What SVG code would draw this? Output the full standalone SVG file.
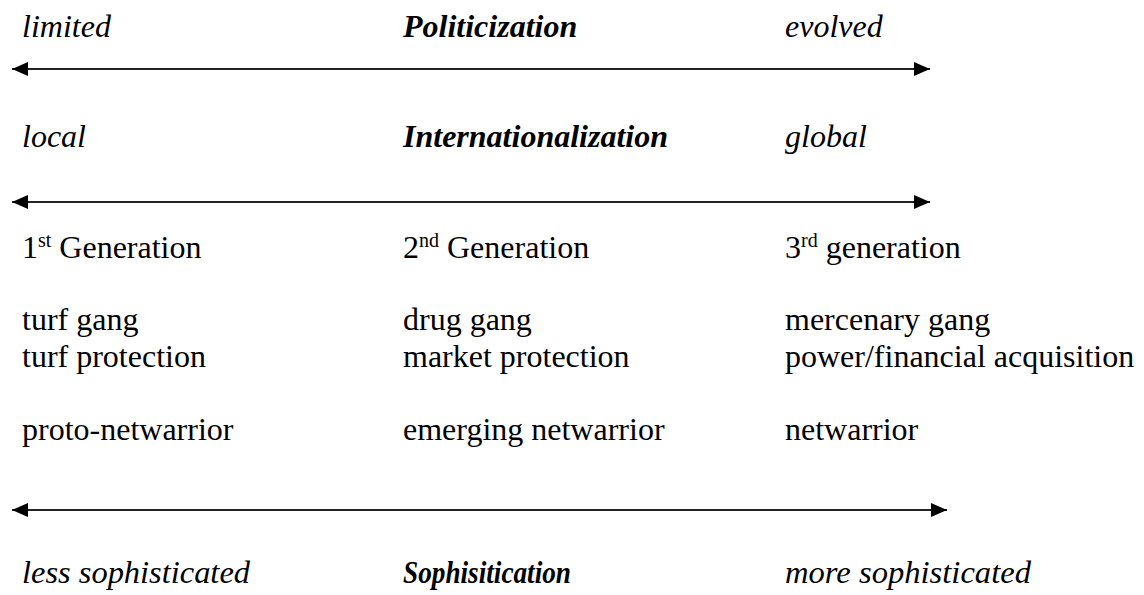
<svg xmlns="http://www.w3.org/2000/svg" width="1144" height="595" viewBox="0 0 1144 595">
<style>
text{font-family:"Liberation Serif","Times New Roman",serif;font-size:32px;fill:#000}
.i{font-style:italic}
.b{font-style:italic;font-weight:bold}
.sup{font-size:20px}
.ax{stroke:#222;stroke-width:2;fill:none}
</style>
<defs>
<marker id="ah" viewBox="0 0 16 14" refX="16" refY="7" markerWidth="16" markerHeight="14" markerUnits="userSpaceOnUse" orient="auto-start-reverse">
<path d="M0,0 L16,7 L0,14 Z" fill="#000"/>
</marker>
</defs>
<rect width="1144" height="595" fill="#fff"/>
<g id="politicization">
<text class="i" x="22" y="37">limited</text>
<text class="b" x="403" y="37">Politicization</text>
<text class="i" x="785" y="37">evolved</text>
</g>
<g id="internationalization">
<text class="i" x="22" y="147">local</text>
<text class="b" x="403" y="147">Internationalization</text>
<text class="i" x="785" y="147">global</text>
</g>
<g id="gen1">
<text x="22" y="258">1<tspan class="sup" dy="-11">st</tspan><tspan dy="11"> Generation</tspan></text>
<text x="22" y="330">turf gang</text>
<text x="22" y="367">turf protection</text>
<text x="22" y="440">proto-netwarrior</text>
</g>
<g id="gen2">
<text x="403" y="258">2<tspan class="sup" dy="-11">nd</tspan><tspan dy="11"> Generation</tspan></text>
<text x="403" y="330">drug gang</text>
<text x="403" y="367">market protection</text>
<text x="403" y="440">emerging netwarrior</text>
</g>
<g id="gen3">
<text x="785" y="258">3<tspan class="sup" dy="-11">rd</tspan><tspan dy="11"> generation</tspan></text>
<text x="785" y="330">mercenary gang</text>
<text x="785" y="367">power/financial acquisition</text>
<text x="785" y="440">netwarrior</text>
</g>
<g id="sophistication">
<text class="i" x="22" y="583" textLength="228" lengthAdjust="spacingAndGlyphs">less sophisticated</text>
<text class="b" x="403" y="583" textLength="168" lengthAdjust="spacingAndGlyphs">Sophisitication</text>
<text class="i" x="785" y="583" textLength="246" lengthAdjust="spacingAndGlyphs">more sophisticated</text>
</g>
<g id="connectors">
<line class="ax" x1="12" y1="69" x2="930" y2="69" marker-start="url(#ah)" marker-end="url(#ah)"/>
<line class="ax" x1="12" y1="202" x2="930" y2="202" marker-start="url(#ah)" marker-end="url(#ah)"/>
<line class="ax" x1="12" y1="510" x2="947" y2="510" marker-start="url(#ah)" marker-end="url(#ah)"/>
</g>
</svg>
